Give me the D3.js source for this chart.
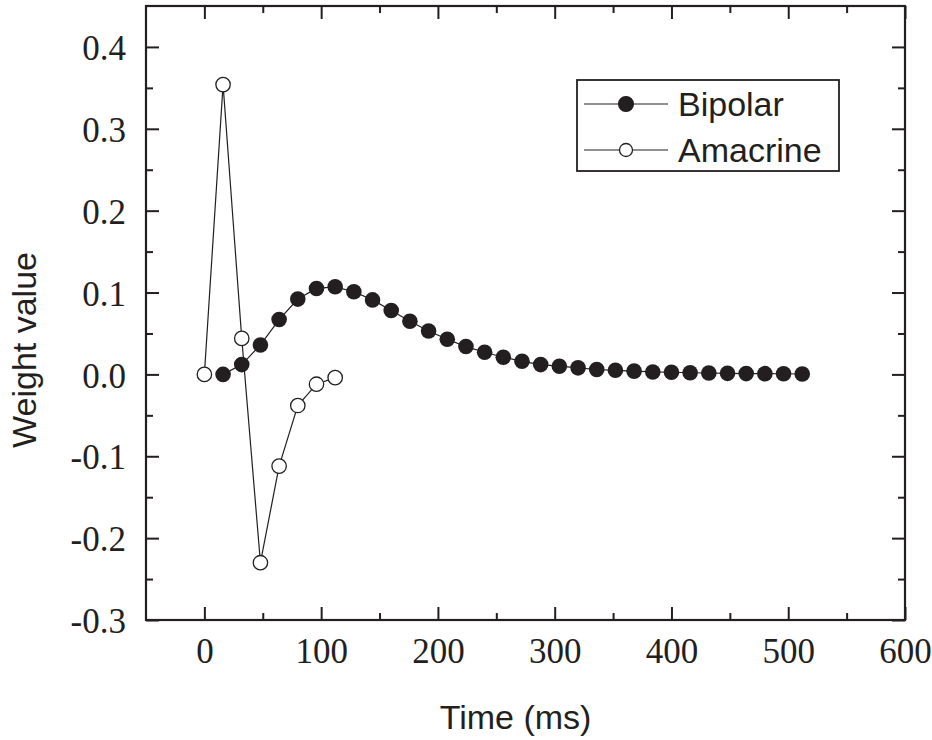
<!DOCTYPE html>
<html>
<head>
<meta charset="utf-8">
<script src="https://cdn.jsdelivr.net/npm/d3@7"></script>
<style>
  body { margin: 0; background: #fff; }
  svg { display: block; }
</style>
</head>
<body>
<div id="chart"></div>
<script>
// data
const bipolarTime = [16, 32, 48, 64, 80, 96, 112, 128, 144, 160, 176, 192, 208, 224, 240, 256,
  272, 288, 304, 320, 336, 352, 368, 384, 400, 416, 432, 448, 464, 480, 496, 512];
const bipolarWeight = [0.0, 0.012, 0.036, 0.067, 0.092, 0.105, 0.107, 0.101, 0.091, 0.078, 0.065,
  0.053, 0.043, 0.034, 0.027, 0.021, 0.016, 0.012, 0.010, 0.008, 0.006, 0.005, 0.004, 0.003,
  0.0026, 0.002, 0.0017, 0.0013, 0.001, 0.0009, 0.0008, 0.0005];
const amacrineTime = [0, 16, 32, 48, 64, 80, 96, 112];
const amacrineWeight = [0.0, 0.354, 0.044, -0.230, -0.112, -0.038, -0.012, -0.004];

const xTicks = [0, 100, 200, 300, 400, 500, 600];
const xMinor = [50, 150, 250, 350, 450, 550];
const yTicks = [-0.3, -0.2, -0.1, 0.0, 0.1, 0.2, 0.3, 0.4];
const yMinor = [-0.25, -0.15, -0.05, 0.05, 0.15, 0.25, 0.35];

const width = 932;
const height = 740;
const plot = { left: 146, right: 905, top: 6, bottom: 620 };
const INK = "#231f20";

const svg = d3.select("#chart")
  .append("svg")
  .attr("width", width)
  .attr("height", height);

const x = d3.scaleLinear().domain([-50, 600]).range([plot.left, plot.right]);
const y = d3.scaleLinear().domain([-0.3, 0.45]).range([plot.bottom, plot.top]);

// axes: ticks point inward on all four sides
function drawAxis(axisFn, pos, values, size, digits) {
  const g = svg.append("g")
    .attr("transform", pos)
    .call(axisFn.tickValues(values).tickSize(-size).tickSizeOuter(0)
      .tickFormat(digits == null ? "" : (d) => d.toFixed(digits)));
  g.select(".domain").remove();
  g.selectAll(".tick line").attr("stroke", INK).attr("stroke-width", 2);
  return g;
}

const bx = drawAxis(d3.axisBottom(x), `translate(0,${plot.bottom})`, xTicks, 13, 0);
bx.selectAll("text")
  .attr("font-family", "'Liberation Serif', 'Times New Roman', serif")
  .attr("font-size", 35).attr("fill", INK).attr("y", 18).attr("dy", "0.71em");
drawAxis(d3.axisBottom(x), `translate(0,${plot.bottom})`, xMinor, 7, null);
drawAxis(d3.axisTop(x), `translate(0,${plot.top})`, xTicks, 13, null);
drawAxis(d3.axisTop(x), `translate(0,${plot.top})`, xMinor, 7, null);

const ly = drawAxis(d3.axisLeft(y), `translate(${plot.left},0)`, yTicks, 13, 1);
ly.selectAll("text")
  .attr("font-family", "'Liberation Serif', 'Times New Roman', serif")
  .attr("font-size", 35).attr("fill", INK).attr("x", -20).attr("dy", "0.36em");
drawAxis(d3.axisLeft(y), `translate(${plot.left},0)`, yMinor, 7, null);
drawAxis(d3.axisRight(y), `translate(${plot.right},0)`, yTicks, 13, null);
drawAxis(d3.axisRight(y), `translate(${plot.right},0)`, yMinor, 7, null);

// frame
svg.append("rect")
  .attr("x", plot.left).attr("y", plot.top)
  .attr("width", plot.right - plot.left).attr("height", plot.bottom - plot.top)
  .attr("fill", "none").attr("stroke", INK).attr("stroke-width", 2.2);

// axis titles
svg.append("text")
  .attr("x", (plot.left + plot.right) / 2 - 10).attr("y", 729)
  .attr("text-anchor", "middle")
  .attr("font-family", "'Liberation Sans', Arial, sans-serif")
  .attr("font-size", 34).attr("fill", INK)
  .text("Time (ms)");

svg.append("text")
  .attr("transform", "translate(36,350) rotate(-90)")
  .attr("text-anchor", "middle")
  .attr("font-family", "'Liberation Sans', Arial, sans-serif")
  .attr("font-size", 34).attr("fill", INK)
  .text("Weight value");

// series
const line = d3.line().x((d) => x(d[0])).y((d) => y(d[1]));

const amacrine = d3.zip(amacrineTime, amacrineWeight);
const bipolar = d3.zip(bipolarTime, bipolarWeight);

svg.append("path").datum(amacrine)
  .attr("d", line).attr("fill", "none").attr("stroke", INK).attr("stroke-width", 1.2);
svg.selectAll(".amac").data(amacrine).enter().append("circle")
  .attr("class", "amac")
  .attr("cx", (d) => x(d[0])).attr("cy", (d) => y(d[1])).attr("r", 7.2)
  .attr("fill", "#fff").attr("stroke", INK).attr("stroke-width", 1.3);

svg.append("path").datum(bipolar)
  .attr("d", line).attr("fill", "none").attr("stroke", INK).attr("stroke-width", 1.2);
svg.selectAll(".bip").data(bipolar).enter().append("circle")
  .attr("class", "bip")
  .attr("cx", (d) => x(d[0])).attr("cy", (d) => y(d[1])).attr("r", 7.8)
  .attr("fill", INK);

// legend
const legend = svg.append("g");
legend.append("rect")
  .attr("x", 577).attr("y", 80).attr("width", 262).attr("height", 91)
  .attr("fill", "#fff").attr("stroke", INK).attr("stroke-width", 1.8);

const legendRows = [
  { name: "Bipolar", fill: INK, r: 7.4, cy: 104 },
  { name: "Amacrine", fill: "#fff", r: 6.5, cy: 150 },
];
legendRows.forEach((row) => {
  legend.append("line")
    .attr("x1", 584).attr("x2", 668).attr("y1", row.cy).attr("y2", row.cy)
    .attr("stroke", INK).attr("stroke-width", 1.2);
  legend.append("circle")
    .attr("cx", 626).attr("cy", row.cy).attr("r", row.r)
    .attr("fill", row.fill).attr("stroke", INK).attr("stroke-width", 1.3);
  legend.append("text")
    .attr("x", 678).attr("y", row.cy + 12)
    .attr("font-family", "'Liberation Sans', Arial, sans-serif")
    .attr("font-size", 34).attr("fill", INK)
    .text(row.name);
});
</script>
</body>
</html>
